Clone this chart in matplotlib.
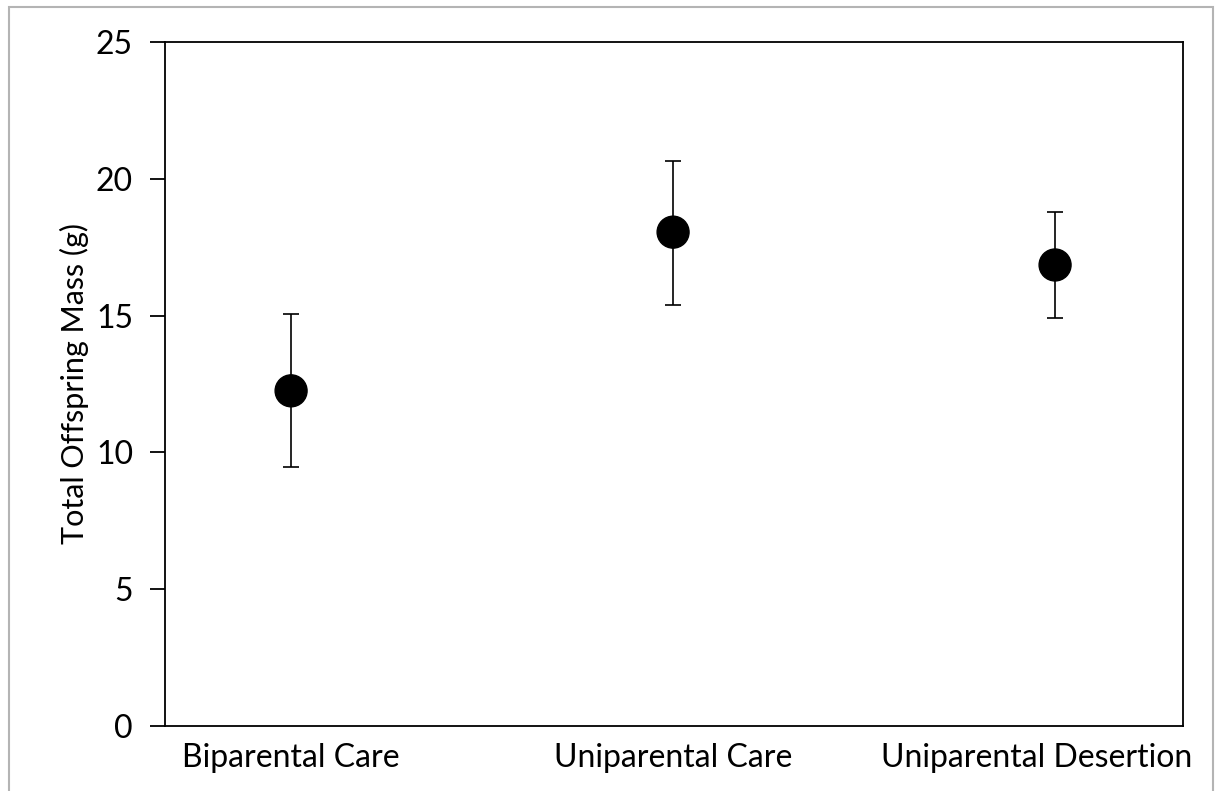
import numpy as np
import matplotlib
matplotlib.use('Agg')
import matplotlib.pyplot as plt
import matplotlib.patheffects as pe
import matplotlib.transforms as mtransforms
from matplotlib.patches import Rectangle

plt.rcParams['font.family'] = ['Lato', 'DejaVu Sans']

groups = ['Biparental Care', 'Uniparental Care', 'Uniparental Desertion']
means = [12.25, 18.05, 16.85]
upper = [15.05, 20.65, 18.8]
lower = [9.45, 15.4, 14.9]


def main():
    fig = plt.figure(figsize=(12.18, 7.91), dpi=100)
    ax = fig.add_axes([0.1355, 0.0822, 0.8358, 0.8647])

    x = np.arange(len(groups))
    m = np.array(means)
    err = [m - np.array(lower), np.array(upper) - m]
    ax.errorbar(x, m, yerr=err, fmt='none', ecolor='black', elinewidth=1.2,
                capsize=6, capthick=1.2, zorder=2)
    ax.plot(x, m, 'o', color='black', markersize=23, zorder=3,
            path_effects=[pe.SimpleLineShadow(offset=(1.5, -2), shadow_color='black',
                                              alpha=0.25, linewidth=0),
                          pe.Normal()])

    ax.set_xlim(-0.33, 2.335)
    ax.set_ylim(0, 25)
    ax.set_yticks([0, 5, 10, 15, 20, 25])
    ax.set_xticks(x)
    ax.set_xticklabels(groups, fontsize=23)
    ax.tick_params(axis='x', length=0, pad=12)
    ax.tick_params(axis='y', length=11, width=1.3, labelsize=23, pad=12)
    # last label is pushed left so it stays inside the frame
    last = ax.get_xticklabels()[-1]
    last.set_transform(last.get_transform() +
                       mtransforms.ScaledTranslation(-0.18, 0, fig.dpi_scale_trans))
    for s in ax.spines.values():
        s.set_linewidth(1.3)
    ax.set_ylabel('Total Offspring Mass (g)', fontsize=22, labelpad=5)

    # outer frame of the picture
    fig.patches.append(Rectangle((0.0074, -0.05), 0.9885, 1.0412, transform=fig.transFigure,
                                 fill=False, edgecolor='#b4b4b4', linewidth=1.5))

    fig.savefig('out.png', dpi=100)


if __name__ == '__main__':
    main()
